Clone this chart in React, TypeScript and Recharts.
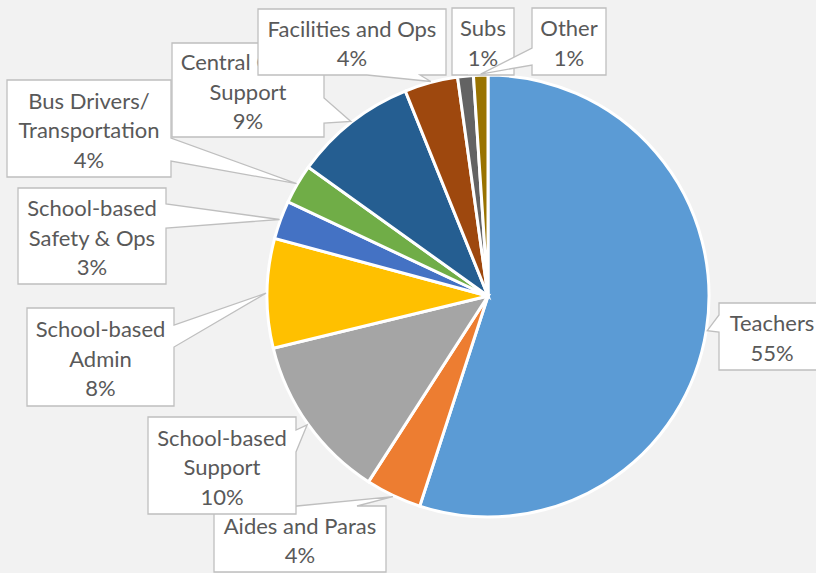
import { Cell, Pie, PieChart } from "recharts"

const categories = [
  "Teachers",
  "Aides and Paras",
  "School-based Support",
  "School-based Admin",
  "School-based Safety & Ops",
  "Bus Drivers/ Transportation",
  "Central Office Support",
  "Facilities and Ops",
  "Subs",
  "Other",
]

// slice sizes (percent of total)
const shares = [55, 4.1, 12.1, 8.0, 2.8, 2.9, 9.0, 3.9, 1.15, 1.05]

// percentages as printed on the labels
const pctLabels = ["55%", "4%", "10%", "8%", "3%", "4%", "9%", "4%", "1%", "1%"]

// how each category name wraps inside its callout
const nameLines = [
  ["Teachers"],
  ["Aides and Paras"],
  ["School-based", "Support"],
  ["School-based", "Admin"],
  ["School-based", "Safety & Ops"],
  ["Bus Drivers/", "Transportation"],
  ["Central Office", "Support"],
  ["Facilities and Ops"],
  ["Subs"],
  ["Other"],
]

const COLORS = [
  "#5B9BD5",
  "#ED7D31",
  "#A5A5A5",
  "#FFC000",
  "#4472C4",
  "#70AD47",
  "#255E91",
  "#9E480E",
  "#636363",
  "#997300",
]

type Side = "top" | "right" | "bottom" | "left"
interface Callout {
  x: number
  y: number
  w: number
  h: number
  side: Side
  a: number
  b: number
}

// callout boxes and where their pointer leaves the box
const CALLOUTS: Callout[] = [
  { x: 719, y: 303, w: 106, h: 67, side: "left", a: 315, b: 332 },
  { x: 214, y: 506, w: 172, h: 66, side: "top", a: 297, b: 357 },
  { x: 148, y: 417, w: 148, h: 97, side: "right", a: 430, b: 452 },
  { x: 27, y: 308, w: 147, h: 98, side: "right", a: 325, b: 347 },
  { x: 18, y: 188, w: 148, h: 96, side: "right", a: 204, b: 228 },
  { x: 7, y: 80, w: 164, h: 97, side: "right", a: 138, b: 161 },
  { x: 172, y: 43, w: 152, h: 94, side: "right", a: 98, b: 123 },
  { x: 258, y: 9, w: 188, h: 66, side: "bottom", a: 367, b: 420 },
  { x: 452, y: 8, w: 62, h: 67, side: "bottom", a: 468, b: 480 },
  { x: 532, y: 8, w: 74, h: 67, side: "left", a: 48, b: 65 },
]

const data = categories.map((name, i) => ({ name, value: shares[i] }))

const RADIAN = Math.PI / 180
const WIDTH = 816
const HEIGHT = 573

function calloutPath(c: Callout, tx: number, ty: number) {
  const { x, y, w, h, side, a, b } = c
  const pts: [number, number][] = [[x, y]]
  if (side === "top") pts.push([a, y], [tx, ty], [b, y])
  pts.push([x + w, y])
  if (side === "right") pts.push([x + w, a], [tx, ty], [x + w, b])
  pts.push([x + w, y + h])
  if (side === "bottom") pts.push([b, y + h], [tx, ty], [a, y + h])
  pts.push([x, y + h])
  if (side === "left") pts.push([x, b], [tx, ty], [x, a])
  return "M" + pts.map((p) => `${p[0]},${p[1]}`).join("L") + "Z"
}

function renderLabel(props: any) {
  const { cx, cy, midAngle, outerRadius, index } = props
  const c = CALLOUTS[index]
  const r = outerRadius + 1
  const tx = cx + r * Math.cos(-midAngle * RADIAN)
  const ty = cy + r * Math.sin(-midAngle * RADIAN)
  const lines = [...nameLines[index], pctLabels[index]]
  const lh = 29.5
  const midX = c.x + c.w / 2
  const startY = c.y + c.h / 2 - ((lines.length - 1) * lh) / 2 + 1
  return (
    <g key={`lbl-${index}`}>
      <path d={calloutPath(c, tx, ty)} fill="#FFFFFF" stroke="#BFBFBF" strokeWidth={1.3} />
      {lines.map((t, i) => (
        <text
          key={i}
          x={midX}
          y={startY + i * lh}
          textAnchor="middle"
          dominantBaseline="central"
          fill="#595959"
          fontSize={22}
          fontFamily="Lato, 'Open Sans', sans-serif"
        >
          {t}
        </text>
      ))}
    </g>
  )
}

export default function App() {
  return (
    <div
      style={{
        position: "fixed",
        top: 0,
        left: 0,
        width: WIDTH,
        height: HEIGHT,
        background: "#F2F2F2",
        overflow: "hidden",
      }}
    >
      <PieChart width={WIDTH} height={HEIGHT} margin={{ top: 0, right: 0, bottom: 0, left: 0 }}>
        <Pie
          data={data}
          dataKey="value"
          cx={488}
          cy={296}
          outerRadius={221}
          startAngle={90}
          endAngle={-270}
          stroke="#FFFFFF"
          strokeWidth={3}
          labelLine={false}
          label={renderLabel}
          isAnimationActive={false}
        >
          {data.map((entry, index) => (
            <Cell key={`cell-${index}`} fill={COLORS[index % COLORS.length]} />
          ))}
        </Pie>
      </PieChart>
    </div>
  )
}
